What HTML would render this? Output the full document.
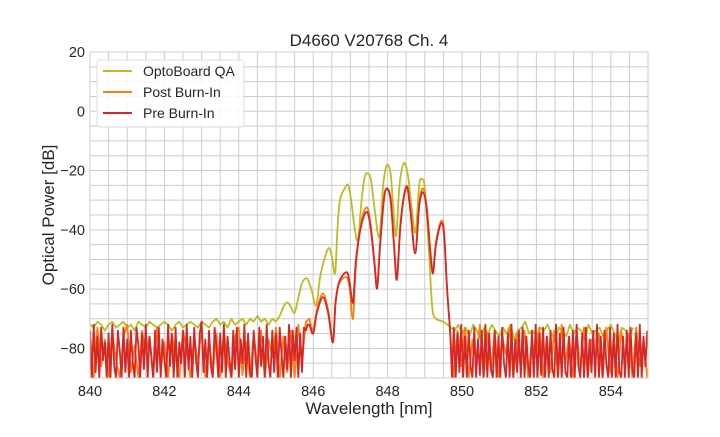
<!DOCTYPE html>
<html><head><meta charset="utf-8"><style>
body{margin:0;background:#fff;}
svg text{font-family:"Liberation Sans",Arial,sans-serif;fill:#262626;}
</style></head><body>
<svg id="chart" width="720" height="432" viewBox="0 0 720 432">
<rect width="720" height="432" fill="#fff"/>
<g id="grid"></g>
<g id="series"></g>
<rect x="90" y="52" width="558" height="326" fill="none" stroke="#ccc" stroke-width="1"/>
<g id="ticks"></g>
<text x="369" y="46" text-anchor="middle" font-size="17">D4660 V20768 Ch. 4</text>
<text x="369" y="414" text-anchor="middle" font-size="17">Wavelength [nm]</text>
<text transform="translate(54,215) rotate(-90)" text-anchor="middle" font-size="17">Optical Power [dB]</text>
<g>
<rect x="97" y="60" width="147" height="67" rx="3" fill="#fff" fill-opacity="0.85" stroke="#ddd"/>
<g><line x1="103" y1="71" x2="132" y2="71" stroke="#bcbd22" stroke-width="2"/><text x="143" y="76" font-size="14">OptoBoard QA</text></g>
<g><line x1="103" y1="92" x2="132" y2="92" stroke="#ff7f0e" stroke-width="2"/><text x="143" y="97" font-size="14">Post Burn-In</text></g>
<g><line x1="103" y1="113" x2="132" y2="113" stroke="#d62728" stroke-width="2"/><text x="143" y="118" font-size="14">Pre Burn-In</text></g>
</g>
</svg>
<script>
const xTicks=[840,842,844,846,848,850,852,854];
const yTicks=[20,0,-20,-40,-60,-80];
const noiseStep=0.1;
const noiseStepDense=0.05;
// OptoBoard QA
const oliveLeftNoise=[-72,-73,-71,-72,-74,-72,-71,-73,-72,-71,-73,-72,-74,-71,-72,-73,-71,-72,-73,-72,-71,-72,-74,-72,-71,-73,-72,-71,-72,-73,-71,-72,-73,-71,-70,-72,-71,-73,-70,-72,-71,-70,-72,-70,-71,-69,-71,-70,-72,-70];
const olivePeakWl=[845.0,845.1,845.2,845.3,845.4,845.5,845.6,845.7,845.83,845.95,846.08,846.2,846.4,846.5,846.59,846.65,846.72,846.85,846.94,847.02,847.1,847.2,847.3,847.38,847.45,847.55,847.65,847.78,847.88,847.98,848.08,848.15,848.23,848.32,848.44,848.55,848.65,848.75,848.85,848.92,849.0,849.1,849.2,849.3,849.5,849.7];
const olivePeakVals=[-71,-69,-66,-64.5,-66,-68,-63,-58,-56.4,-60,-65.5,-55,-46.4,-49,-54.7,-40,-30,-26,-24.9,-30,-38,-43.5,-30,-22.5,-20.9,-23,-33,-42.5,-25,-18.2,-21,-32,-42,-25,-17.5,-22,-33,-40.8,-25,-22.9,-26,-45,-66,-70,-71,-73];
const oliveRightNoise=[-74,-72,-75,-73,-76,-72,-74,-77,-73,-75,-72,-74,-76,-73,-75,-72,-77,-74,-73,-71,-75,-74,-76,-73,-74,-72,-75,-77,-73,-74,-76,-72,-75,-73,-74,-77,-72,-75,-74,-73,-76,-74,-72,-75,-78,-73,-74,-76,-73];
// Post Burn-In
const orangeLeftNoise=[-75,-90,-73,-86,-77,-90,-74,-84,-90,-76,-72,-88,-79,-90,-74,-82,-76,-90,-73,-87,-78,-90,-75,-83,-90,-74,-80,-90,-76,-85,-73,-90,-77,-88,-75,-90,-74,-84,-90,-76,-73,-89,-78,-90,-75,-86,-74,-90,-77,-83,-73,-90,-76,-88,-74,-90,-72,-85,-71];
const orangePeakWl=[845.9,846.0,846.1,846.26,846.4,846.53,846.6,846.7,846.9,846.98,847.07,847.15,847.3,847.45,847.55,847.65,847.72,847.8,847.9,847.98,848.08,848.17,848.25,848.35,848.5,848.6,848.74,848.85,848.95,849.05,849.15,849.22,849.3,849.44,849.52,849.6,849.68];
const orangePeakVals=[-70,-74,-67,-61.5,-67,-77,-64,-58,-56,-60,-70,-52,-37,-32.5,-39,-51,-59,-44,-29,-26.5,-29,-44,-56,-37,-25.3,-31,-47,-31,-26,-32,-47,-54,-44,-37,-41,-60,-74];
const orangeRightNoise=[-90,-74,-86,-73,-90,-77,-84,-72,-90,-75,-88,-74,-90,-76,-82,-73,-90,-75,-87,-74,-90,-77,-83,-73,-90,-76,-88,-74,-90,-72,-85,-76,-90,-74,-87,-73,-90,-77,-84,-75,-90,-73,-88,-76,-90,-74,-83,-75,-90,-73,-86,-77,-90];
// Pre Burn-In
const redLeftNoise=[-74,-90,-72,-88,-76,-90,-73,-84,-78,-90,-75,-90,-72,-86,-90,-74,-81,-90,-73,-88,-77,-90,-74,-85,-90,-73,-79,-90,-75,-87,-72,-90,-76,-83,-90,-74,-88,-73,-90,-77,-84,-90,-72,-86,-75,-90,-73,-90,-78,-85,-74,-90,-72,-87,-76,-90,-73,-84,-90,-75,-71,-88,-77,-90,-74,-86,-90,-73,-80,-90,-75,-88,-72,-90,-76,-84,-90,-74,-87,-73,-90,-77,-85,-72,-90,-75,-88,-90,-74,-83,-90,-73,-86,-76,-90,-72,-85,-90,-74,-88,-75,-90,-73,-82,-90,-76,-87,-72,-90,-74,-84,-73,-90,-75,-88,-73,-74,-72];
const redPeakWl=[845.9,846.0,846.1,846.26,846.4,846.53,846.6,846.7,846.9,846.98,847.07,847.15,847.3,847.45,847.55,847.65,847.72,847.8,847.9,847.98,848.08,848.17,848.25,848.35,848.5,848.6,848.74,848.85,848.95,849.05,849.15,849.22,849.3,849.44,849.52,849.6,849.68];
const redPeakVals=[-72,-75,-68,-62.7,-68,-78,-65,-57.5,-54.3,-58,-64.5,-50,-38,-34,-40,-52,-59.7,-45,-30,-26,-30,-45,-56.8,-38,-25.6,-32,-48,-32,-27.3,-33,-48,-54.7,-45,-37.8,-42,-60,-74];
const redRightNoise=[-90,-73,-90,-75,-88,-72,-90,-76,-90,-74,-86,-90,-73,-90,-77,-89,-74,-90,-72,-90,-75,-87,-90,-74,-90,-76,-90,-73,-85,-90,-75,-90,-72,-90,-77,-88,-74,-90,-73,-90,-76,-86,-90,-74,-90,-72,-90,-75,-89,-73,-90,-76,-90,-74,-87,-90,-72,-90,-75,-90,-73,-88,-90,-76,-90,-74,-90,-72,-86,-90,-75,-90,-73,-90,-77,-88,-74,-90,-72,-90,-76,-90,-74,-85,-90,-73,-90,-75,-90,-72,-88,-90,-76,-90,-74,-90,-73,-87,-90,-75,-90,-72,-90,-76,-86,-74];

const X0=90,X1=648,Y0=52,Y1=378,XMIN=840,XMAX=855,YMIN=-90,YMAX=20;
const xs=v=>X0+(v-XMIN)/(XMAX-XMIN)*(X1-X0);
const ys=v=>Y0+(YMAX-v)/(YMAX-YMIN)*(Y1-Y0);
const NS='http://www.w3.org/2000/svg';
const grid=document.getElementById('grid'),tk=document.getElementById('ticks'),sr=document.getElementById('series');
for(let w=840.5;w<855;w+=0.5){const l=document.createElementNS(NS,'line');
l.setAttribute('x1',xs(w));l.setAttribute('x2',xs(w));l.setAttribute('y1',Y0);l.setAttribute('y2',Y1);l.setAttribute('stroke','#ccc');


grid.appendChild(l);}
for(let v=-85;v<20;v+=5){const l=document.createElementNS(NS,'line');
l.setAttribute('x1',X0);l.setAttribute('x2',X1);l.setAttribute('y1',ys(v));l.setAttribute('y2',ys(v));l.setAttribute('stroke','#ccc');


grid.appendChild(l);}
xTicks.forEach(t=>{const e=document.createElementNS(NS,'text');e.setAttribute('x',xs(t));e.setAttribute('y',Y1+18);e.setAttribute('text-anchor','middle');e.setAttribute('font-size','14.5');e.textContent=t;


tk.appendChild(e);});
yTicks.forEach(t=>{const e=document.createElementNS(NS,'text');e.setAttribute('x',X0-5);e.setAttribute('y',ys(t)+5);e.setAttribute('text-anchor','end');e.setAttribute('font-size','14.5');e.textContent=(t<0?'\u2212'+(-t):t);


tk.appendChild(e);});
function pathFor(left,lstep,pw,pv,right,rstep){
  const L=[],P=[],R=[];
  left.forEach((v,i)=>{const w=840+i*lstep;if(w<pw[0])L.push([xs(w),ys(v)]);});
  pw.forEach((w,i)=>P.push([xs(w),ys(pv[i])]));
  const last=pw[pw.length-1];
  right.forEach((v,i)=>{const w=last+(i+1)*rstep;if(w<=855.001)R.push([xs(w),ys(v)]);});
  let d='';
  L.forEach((q,i)=>{d+=(i?'L':'M')+q[0].toFixed(1)+','+q[1].toFixed(1);});
  d+=(d?'L':'M')+P[0][0].toFixed(1)+','+P[0][1].toFixed(1);
  for(let i=0;i<P.length-1;i++){
    const p0=P[Math.max(i-1,0)],p1=P[i],p2=P[i+1],p3=P[Math.min(i+2,P.length-1)];
    const c1=[p1[0]+(p2[0]-p0[0])/6,p1[1]+(p2[1]-p0[1])/6];
    const c2=[p2[0]-(p3[0]-p1[0])/6,p2[1]-(p3[1]-p1[1])/6];
    d+='C'+c1.map(v=>v.toFixed(1)).join(',')+' '+c2.map(v=>v.toFixed(1)).join(',')+' '+p2[0].toFixed(1)+','+p2[1].toFixed(1);
  }
  R.forEach(q=>{d+='L'+q[0].toFixed(1)+','+q[1].toFixed(1);});
  return d;
}
function draw(d,color,name){
  const p=document.createElementNS(NS,'path');
  p.setAttribute('d',d);
  p.setAttribute('fill','none');p.setAttribute('stroke',color);p.setAttribute('stroke-width','1.8');p.setAttribute('stroke-linejoin','round');
  
  
  sr.appendChild(p);
}
const clip=document.createElementNS(NS,'clipPath');clip.setAttribute('id','pc');
const cr=document.createElementNS(NS,'rect');cr.setAttribute('x',X0);cr.setAttribute('y',Y0);cr.setAttribute('width',X1-X0);cr.setAttribute('height',Y1-Y0);
clip.appendChild(cr);document.getElementById('chart').appendChild(clip);sr.setAttribute('clip-path','url(#pc)');
draw(pathFor(oliveLeftNoise,noiseStep,olivePeakWl,olivePeakVals,oliveRightNoise,noiseStep),'#bcbd22','optoboard-qa-line');
draw(pathFor(orangeLeftNoise,noiseStep,orangePeakWl,orangePeakVals,orangeRightNoise,noiseStep),'#ff7f0e','post-burn-in-line');
draw(pathFor(redLeftNoise,noiseStepDense,redPeakWl,redPeakVals,redRightNoise,noiseStepDense),'#d62728','pre-burn-in-line');
</script>
</body></html>
